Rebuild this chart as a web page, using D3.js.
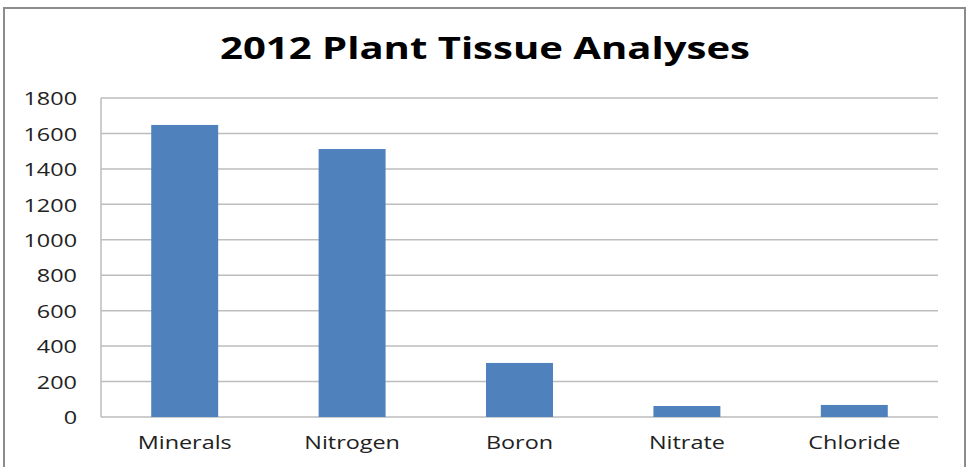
<!DOCTYPE html>
<html>
<head>
<meta charset="utf-8">
<script src="https://cdn.jsdelivr.net/npm/d3@7"></script>
<style>
  body { margin: 0; background: #fff; }
</style>
</head>
<body>
<div id="bar_chart"></div>
<script>
var categories = ["Minerals", "Nitrogen", "Boron", "Nitrate", "Chloride"];
var values = [1648, 1512, 305, 62, 68];
var yTicks = [0, 200, 400, 600, 800, 1000, 1200, 1400, 1600, 1800];
var title = "2012 Plant Tissue Analyses";

function barChart(id) {
    var W = 969, H = 467;
    var margin = {top: 98, right: 31, bottom: 50, left: 101},
        width = W - margin.left - margin.right,
        height = 417 - margin.top;
    var stretch = 1.3;

    var root = d3.select("#" + id)
        .html("")
        .append("svg")
        .attr("width", W)
        .attr("height", H);

    // outer frame
    root.append("rect")
        .attr("x", 4)
        .attr("y", 8)
        .attr("width", 961)
        .attr("height", H + 10)
        .attr("fill", "#fff")
        .attr("stroke", "#8c8c8c")
        .attr("stroke-width", 2);

    root.append("text")
        .attr("x", 485)
        .attr("y", 59)
        .attr("text-anchor", "middle")
        .attr("textLength", 530)
        .attr("lengthAdjust", "spacingAndGlyphs")
        .style("font-family", "'Open Sans', sans-serif")
        .style("font-weight", "bold")
        .style("font-size", "30px")
        .attr("fill", "#000")
        .text(title);

    var svg = root.append("g")
        .attr("transform", "translate(" + margin.left + "," + margin.top + ")");

    var x = d3.scaleBand()
        .domain(categories)
        .range([0, width])
        .paddingInner(0.6)
        .paddingOuter(0.3);

    var y = d3.scaleLinear()
        .domain([0, 1800])
        .range([height, 0]);

    // gridlines
    svg.append("g")
        .selectAll("line")
        .data(yTicks)
        .enter().append("line")
        .attr("x1", 0)
        .attr("x2", width)
        .attr("y1", d => y(d))
        .attr("y2", d => y(d))
        .attr("stroke", "#bdbdbd")
        .attr("stroke-width", 1.5);

    svg.append("line")
        .attr("x1", 0).attr("x2", 0)
        .attr("y1", 0).attr("y2", height)
        .attr("stroke", "#bdbdbd")
        .attr("stroke-width", 1.5);

    function widen(sel) {
        sel.style("font-family", "'Open Sans', sans-serif")
            .style("font-size", "18px")
            .attr("fill", "#222")
            .each(function () {
                var len = this.getComputedTextLength();
                d3.select(this)
                    .attr("textLength", len * stretch)
                    .attr("lengthAdjust", "spacingAndGlyphs");
            });
    }

    var yAxis = svg.append("g")
        .attr("transform", "translate(-24,1)")
        .call(d3.axisLeft(y).tickValues(yTicks).tickFormat(d3.format("d")).tickSize(0).tickPadding(0));
    yAxis.select(".domain").remove();
    widen(yAxis.selectAll("text"));

    var xAxis = svg.append("g")
        .attr("transform", "translate(0," + height + ")")
        .call(d3.axisBottom(x).tickSize(0).tickPadding(19));
    xAxis.select(".domain").remove();
    widen(xAxis.selectAll("text"));

    svg.append("g")
        .selectAll("rect")
        .data(values)
        .enter().append("rect")
        .attr("x", (d, i) => x(categories[i]))
        .attr("width", x.bandwidth())
        .attr("y", d => y(d))
        .attr("height", d => height - y(d))
        .attr("fill", "#4f81bd");
}

barChart("bar_chart");
</script>
</body>
</html>
